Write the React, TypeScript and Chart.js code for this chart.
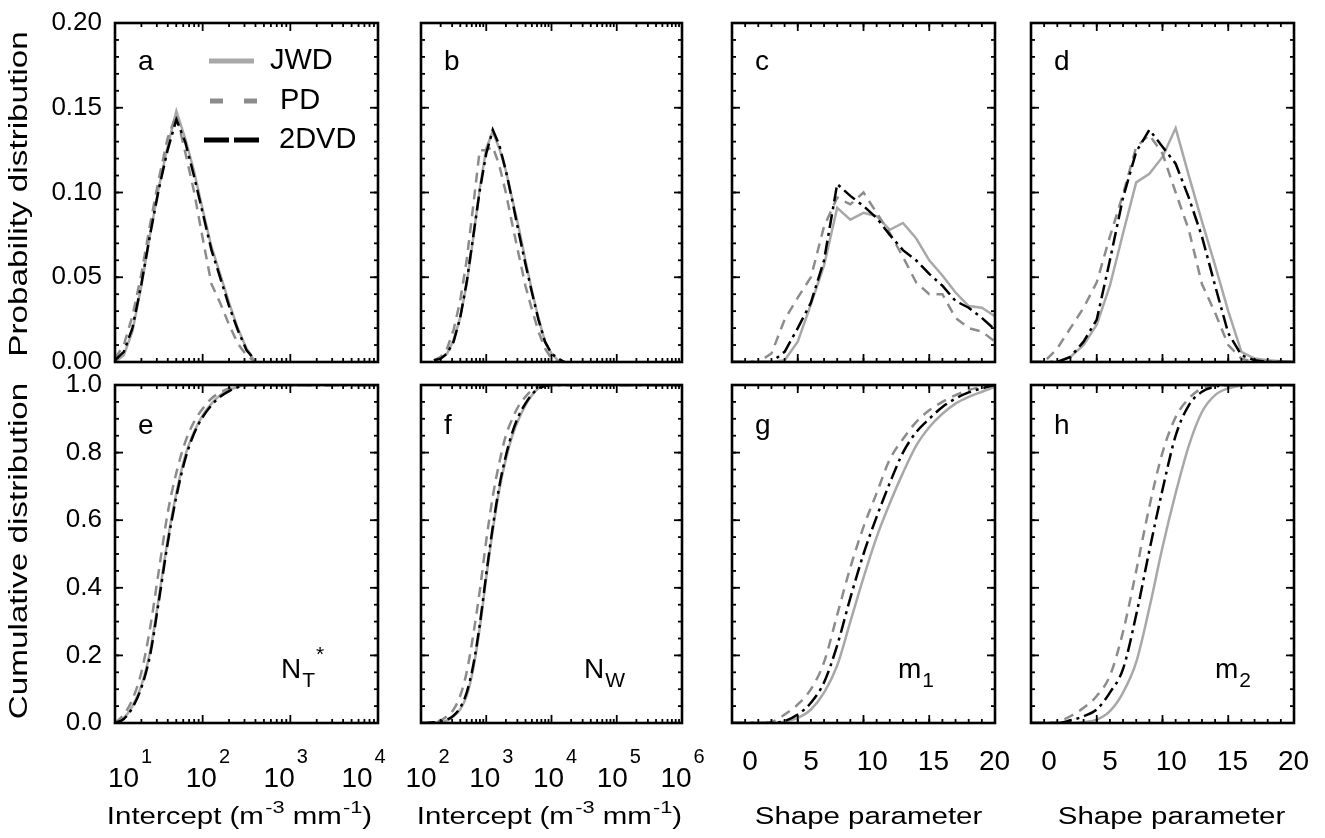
import { useEffect, useRef } from "react";
import { Chart, registerables } from "chart.js";

Chart.register(...registerables);

// ---------------- data ----------------
// Panel a: PDF of intercept N_T* (m^-3 mm^-1)
const ntStarBins = [10, 12.6, 15.8, 20.0, 25.1, 31.6, 39.8, 50.1, 63.1, 79.4, 100, 126, 158, 200, 251, 316, 398];
const pdfNtStarJWD = [0.0, 0.004, 0.018, 0.045, 0.075, 0.103, 0.127, 0.148, 0.132, 0.113, 0.09, 0.068, 0.052, 0.035, 0.02, 0.008, 0.0];
const pdfNtStarPD = [0.002, 0.01, 0.027, 0.052, 0.081, 0.108, 0.132, 0.146, 0.124, 0.101, 0.073, 0.046, 0.035, 0.022, 0.011, 0.004, 0.0];
const pdfNtStar2DVD = [0.001, 0.006, 0.02, 0.046, 0.075, 0.102, 0.125, 0.143, 0.13, 0.11, 0.088, 0.066, 0.05, 0.033, 0.019, 0.007, 0.001];

// Panel e: CDF of N_T*
const ntStarCdfBins = [10, 12.6, 15.8, 20.0, 25.1, 31.6, 39.8, 50.1, 63.1, 79.4, 100, 126, 158, 200, 251, 316, 10000];
const cdfNtStarJWD = [0.0, 0.015, 0.05, 0.11, 0.21, 0.37, 0.54, 0.68, 0.79, 0.86, 0.91, 0.945, 0.97, 0.985, 0.995, 1.0, 1.0];
const cdfNtStarPD = [0.0, 0.025, 0.07, 0.15, 0.28, 0.45, 0.62, 0.74, 0.83, 0.89, 0.93, 0.96, 0.978, 0.99, 0.997, 1.0, 1.0];
const cdfNtStar2DVD = [0.0, 0.012, 0.045, 0.105, 0.2, 0.36, 0.53, 0.67, 0.78, 0.855, 0.905, 0.94, 0.965, 0.982, 0.993, 1.0, 1.0];

// Panel b: PDF of N_w
const nwBins = [158, 200, 251, 316, 398, 501, 631, 794, 1000, 1259, 1585, 1995, 2512, 3162, 3981, 5012, 6310, 7943, 10000, 12589, 15849];
const pdfNwJWD = [0.001, 0.002, 0.005, 0.013, 0.026, 0.046, 0.073, 0.102, 0.126, 0.136, 0.126, 0.113, 0.096, 0.079, 0.06, 0.042, 0.026, 0.012, 0.005, 0.001, 0.0];
const pdfNwPD = [0.001, 0.003, 0.008, 0.019, 0.036, 0.06, 0.092, 0.125, 0.125, 0.127, 0.116, 0.1, 0.081, 0.063, 0.045, 0.031, 0.018, 0.008, 0.002, 0.0, 0.0];
const pdfNw2DVD = [0.001, 0.002, 0.005, 0.012, 0.026, 0.047, 0.074, 0.101, 0.123, 0.137, 0.128, 0.113, 0.095, 0.076, 0.058, 0.041, 0.025, 0.012, 0.005, 0.002, 0.0];

// Panel f: CDF of N_w
const nwCdfBins = [100, 126, 158, 200, 251, 316, 398, 501, 631, 794, 1000, 1259, 1585, 1995, 2512, 3162, 3981, 5012, 6310, 7943, 10000, 1000000];
const cdfNwJWD = [0, 0, 0.001, 0.003, 0.008, 0.02, 0.04, 0.08, 0.16, 0.28, 0.43, 0.57, 0.69, 0.78, 0.85, 0.9, 0.94, 0.97, 0.99, 0.997, 1.0, 1.0];
const cdfNwPD = [0, 0.001, 0.003, 0.008, 0.02, 0.04, 0.08, 0.15, 0.26, 0.39, 0.54, 0.67, 0.77, 0.85, 0.9, 0.94, 0.965, 0.985, 0.995, 1.0, 1.0, 1.0];
const cdfNw2DVD = [0, 0, 0.002, 0.004, 0.01, 0.022, 0.045, 0.09, 0.17, 0.29, 0.44, 0.58, 0.7, 0.79, 0.86, 0.91, 0.945, 0.972, 0.99, 0.997, 1.0, 1.0];

// Shape parameter bins (panels c, d, g, h)
const shapeBins = [0, 1, 2, 3, 4, 5, 6, 7, 8, 9, 10, 11, 12, 13, 14, 15, 16, 17, 18, 19, 20];
const pdfM1JWD = [0, 0, 0, 0, 0.001, 0.012, 0.034, 0.057, 0.091, 0.084, 0.088, 0.086, 0.078, 0.082, 0.073, 0.06, 0.051, 0.041, 0.033, 0.032, 0.027];
const pdfM1PD = [0, 0, 0, 0.005, 0.025, 0.038, 0.05, 0.08, 0.097, 0.093, 0.1, 0.088, 0.076, 0.062, 0.047, 0.04, 0.04, 0.026, 0.02, 0.018, 0.012];
const pdfM12DVD = [0, 0, 0, 0, 0.006, 0.02, 0.035, 0.06, 0.105, 0.098, 0.092, 0.085, 0.075, 0.066, 0.06, 0.052, 0.045, 0.036, 0.032, 0.026, 0.019];

const pdfM2JWD = [0, 0, 0, 0.003, 0.01, 0.022, 0.045, 0.076, 0.106, 0.111, 0.121, 0.138, 0.11, 0.083, 0.057, 0.03, 0.006, 0.002, 0.001, 0.0005, 0];
const pdfM2PD = [0, 0, 0.008, 0.02, 0.032, 0.047, 0.074, 0.099, 0.127, 0.134, 0.123, 0.1, 0.078, 0.046, 0.029, 0.01, 0.002, 0, 0, 0, 0];
const pdfM22DVD = [0, 0, 0, 0.003, 0.012, 0.025, 0.06, 0.097, 0.124, 0.137, 0.127, 0.117, 0.097, 0.074, 0.045, 0.017, 0.004, 0.001, 0, 0, 0];

const cdfM1JWD = [0, 0, 0, 0, 0.004, 0.015, 0.04, 0.09, 0.17, 0.3, 0.43, 0.55, 0.65, 0.74, 0.82, 0.875, 0.915, 0.945, 0.965, 0.98, 0.995];
const cdfM1PD = [0, 0, 0, 0.003, 0.025, 0.055, 0.1, 0.18, 0.32, 0.46, 0.58, 0.68, 0.78, 0.84, 0.89, 0.925, 0.95, 0.97, 0.985, 0.995, 1.0];
const cdfM12DVD = [0, 0, 0, 0, 0.006, 0.025, 0.06, 0.12, 0.23, 0.37, 0.5, 0.61, 0.71, 0.8, 0.86, 0.9, 0.935, 0.96, 0.978, 0.99, 1.0];

const cdfM2JWD = [0, 0, 0, 0, 0.003, 0.01, 0.035, 0.09, 0.18, 0.34, 0.52, 0.68, 0.82, 0.92, 0.97, 0.99, 0.998, 1, 1, 1, 1];
const cdfM2PD = [0, 0, 0.003, 0.02, 0.045, 0.08, 0.14, 0.27, 0.45, 0.64, 0.8, 0.905, 0.96, 0.99, 0.998, 1, 1, 1, 1, 1, 1];
const cdfM22DVD = [0, 0, 0, 0.008, 0.02, 0.04, 0.09, 0.16, 0.32, 0.51, 0.69, 0.85, 0.94, 0.98, 0.995, 1, 1, 1, 1, 1, 1];

// Tick values / labels
const pdfYTicks = [0, 0.05, 0.1, 0.15, 0.2];
const pdfYLabels = ["0.00", "0.05", "0.10", "0.15", "0.20"];
const cdfYTicks = [0, 0.2, 0.4, 0.6, 0.8, 1.0];
const cdfYLabels = ["0.0", "0.2", "0.4", "0.6", "0.8", "1.0"];
const ntStarTicks = [10, 100, 1000, 10000];
const ntStarExps = ["1", "2", "3", "4"];
const nwTicks = [100, 1000, 10000, 100000, 1000000];
const nwExps = ["2", "3", "4", "5", "6"];
const shapeTicks = [0, 5, 10, 15, 20];
const shapeLabels = ["0", "5", "10", "15", "20"];

const seriesNames = ["JWD", "PD", "2DVD"];
const panelLetters = ["a", "b", "c", "d", "e", "f", "g", "h"];

// ---------------- layout / style ----------------
const W = 1325;
const H = 838;
const COL_L = [115, 421, 732, 1031];
const COL_R = [378, 682, 995, 1294];
const ROW_T = [23, 385];
const ROW_B = [362, 723];
const FONT = '"Liberation Sans", Arial, Helvetica, sans-serif';
const fnt = (px: number) => `${px}px ${FONT}`;

const JWD_COLOR = "#a8a8a8";
const PD_COLOR = "#8c8c8c";
const DVD_COLOR = "#000000";
const PD_DASH = [10, 7];
const DVD_DASH = [14, 5, 3, 5];

type Seg = { t: string; k?: "sup" | "sub" };

type PanelSpec = {
  row: number;
  col: number;
  xType: "logarithmic" | "linear";
  xMin: number;
  xMax: number;
  yMax: number;
  xs: number[];
  jwd: number[];
  pd: number[];
  dvd: number[];
  xMajor: number[];
  xLabels: string[];
  labK: number;
  labS: number;
  title: Seg[];
  titleDx: number;
  ann?: Seg[];
  annX?: number;
};

const interceptTitle: Seg[] = [{ t: "Intercept (m" }, { t: "-3", k: "sup" }, { t: " mm" }, { t: "-1", k: "sup" }, { t: ")" }];
const shapeTitle: Seg[] = [{ t: "Shape parameter" }];

const PANELS: PanelSpec[] = [
  { row: 0, col: 0, xType: "logarithmic", xMin: 10, xMax: 10000, yMax: 0.2, xs: ntStarBins, jwd: pdfNtStarJWD, pd: pdfNtStarPD, dvd: pdfNtStar2DVD, xMajor: ntStarTicks, xLabels: ntStarExps, labK: 8.5, labS: 0.888, title: interceptTitle, titleDx: -7 },
  { row: 0, col: 1, xType: "logarithmic", xMin: 100, xMax: 1000000, yMax: 0.2, xs: nwBins, jwd: pdfNwJWD, pd: pdfNwPD, dvd: pdfNw2DVD, xMajor: nwTicks, xLabels: nwExps, labK: 0, labS: 0.977, title: interceptTitle, titleDx: -2 },
  { row: 0, col: 2, xType: "linear", xMin: 0, xMax: 20, yMax: 0.2, xs: shapeBins, jwd: pdfM1JWD, pd: pdfM1PD, dvd: pdfM12DVD, xMajor: shapeTicks, xLabels: shapeLabels, labK: 18, labS: 0.93, title: shapeTitle, titleDx: 5 },
  { row: 0, col: 3, xType: "linear", xMin: 0, xMax: 20, yMax: 0.2, xs: shapeBins, jwd: pdfM2JWD, pd: pdfM2PD, dvd: pdfM22DVD, xMajor: shapeTicks, xLabels: shapeLabels, labK: 18, labS: 0.93, title: shapeTitle, titleDx: 9 },
  { row: 1, col: 0, xType: "logarithmic", xMin: 10, xMax: 10000, yMax: 1.0, xs: ntStarCdfBins, jwd: cdfNtStarJWD, pd: cdfNtStarPD, dvd: cdfNtStar2DVD, xMajor: ntStarTicks, xLabels: ntStarExps, labK: 8.5, labS: 0.888, title: interceptTitle, titleDx: -7, ann: [{ t: "N" }, { t: "T", k: "sub" }, { t: "*", k: "sup" }], annX: 166 },
  { row: 1, col: 1, xType: "logarithmic", xMin: 100, xMax: 1000000, yMax: 1.0, xs: nwCdfBins, jwd: cdfNwJWD, pd: cdfNwPD, dvd: cdfNw2DVD, xMajor: nwTicks, xLabels: nwExps, labK: 0, labS: 0.977, title: interceptTitle, titleDx: -2, ann: [{ t: "N" }, { t: "W", k: "sub" }], annX: 163 },
  { row: 1, col: 2, xType: "linear", xMin: 0, xMax: 20, yMax: 1.0, xs: shapeBins, jwd: cdfM1JWD, pd: cdfM1PD, dvd: cdfM12DVD, xMajor: shapeTicks, xLabels: shapeLabels, labK: 18, labS: 0.93, title: shapeTitle, titleDx: 5, ann: [{ t: "m" }, { t: "1", k: "sub" }], annX: 166 },
  { row: 1, col: 3, xType: "linear", xMin: 0, xMax: 20, yMax: 1.0, xs: shapeBins, jwd: cdfM2JWD, pd: cdfM2PD, dvd: cdfM22DVD, xMajor: shapeTicks, xLabels: shapeLabels, labK: 18, labS: 0.93, title: shapeTitle, titleDx: 9, ann: [{ t: "m" }, { t: "2", k: "sub" }], annX: 184 },
];

// ---------------- drawing helpers ----------------
function segWidth(ctx: CanvasRenderingContext2D, segs: Seg[], size: number, small: number, sx: number) {
  let w = 0;
  for (const s of segs) {
    ctx.font = fnt(s.k ? small : size);
    w += (ctx.measureText(s.t).width + (s.k ? 1 : 0)) * sx;
  }
  return w;
}

function drawSegs(ctx: CanvasRenderingContext2D, segs: Seg[], x: number, baseline: number, size: number, small: number, raise: number, lower: number, sx: number) {
  ctx.textAlign = "left";
  ctx.textBaseline = "alphabetic";
  let cx = x;
  for (const s of segs) {
    ctx.font = fnt(s.k ? small : size);
    let y = baseline;
    if (s.k === "sup") y = baseline - raise;
    if (s.k === "sub") y = baseline + lower;
    ctx.save();
    ctx.translate(cx + (s.k ? 1 : 0) * sx, y);
    ctx.scale(sx, 1);
    ctx.fillText(s.t, 0, 0);
    ctx.restore();
    cx += (ctx.measureText(s.t).width + (s.k ? 1 : 0)) * sx;
  }
}

function minorX(p: PanelSpec): number[] {
  const out: number[] = [];
  if (p.xType === "logarithmic") {
    const e0 = Math.round(Math.log10(p.xMin));
    const e1 = Math.round(Math.log10(p.xMax));
    for (let e = e0; e < e1; e++) for (let m = 2; m <= 9; m++) out.push(m * Math.pow(10, e));
  } else {
    for (let v = p.xMin; v <= p.xMax; v += 1) out.push(v);
  }
  return out;
}

function minorY(p: PanelSpec): number[] {
  const step = p.row === 0 ? 0.01 : 0.05;
  const out: number[] = [];
  const n = Math.round(p.yMax / step);
  for (let i = 0; i <= n; i++) out.push(i * step);
  return out;
}

function makeDecor(p: PanelSpec, idx: number) {
  return {
    id: "decor" + idx,
    afterDraw(chart: any) {
      const ctx: CanvasRenderingContext2D = chart.ctx;
      const { left, right, top, bottom } = chart.chartArea;
      const xs = chart.scales.x;
      const ys = chart.scales.y;
      ctx.save();
      ctx.strokeStyle = "#000";
      ctx.fillStyle = "#000";
      ctx.setLineDash([]);
      ctx.lineCap = "butt";

      const line = (x1: number, y1: number, x2: number, y2: number) => {
        ctx.beginPath();
        ctx.moveTo(x1, y1);
        ctx.lineTo(x2, y2);
        ctx.stroke();
      };

      // ticks (inward, on all four sides)
      ctx.lineWidth = 1.8;
      for (const v of minorX(p)) {
        const px = xs.getPixelForValue(v);
        line(px, bottom, px, bottom - 4);
        line(px, top, px, top + 4);
      }
      for (const v of p.xMajor) {
        const px = xs.getPixelForValue(v);
        line(px, bottom, px, bottom - 8);
        line(px, top, px, top + 8);
      }
      for (const v of minorY(p)) {
        const py = ys.getPixelForValue(v);
        line(left, py, left + 4, py);
        line(right, py, right - 4, py);
      }
      const yMaj = p.row === 0 ? pdfYTicks : cdfYTicks;
      for (const v of yMaj) {
        const py = ys.getPixelForValue(v);
        line(left, py, left + 8, py);
        line(right, py, right - 8, py);
      }

      // frame
      ctx.lineWidth = 2.6;
      ctx.strokeRect(left, top, right - left, bottom - top);

      // y tick labels & row titles (first column)
      if (p.col === 0) {
        const labs = p.row === 0 ? pdfYLabels : cdfYLabels;
        ctx.font = fnt(26);
        ctx.textAlign = "right";
        ctx.textBaseline = "middle";
        yMaj.forEach((v, i) => ctx.fillText(labs[i], left - 13, ys.getPixelForValue(v)));
        ctx.save();
        ctx.translate(20, p.row === 0 ? 194 : 551);
        ctx.rotate(-Math.PI / 2);
        ctx.scale(1.28, 1);
        ctx.font = fnt(26);
        ctx.textAlign = "center";
        ctx.textBaseline = "middle";
        ctx.fillText(p.row === 0 ? "Probability distribution" : "Cumulative distribution", 0, 0);
        ctx.restore();
      }

      // x tick labels & titles (bottom row)
      if (p.row === 1) {
        p.xMajor.forEach((v, i) => {
          const px = xs.getPixelForValue(v);
          const lx = left + p.labK + (px - left) * p.labS;
          if (p.xType === "logarithmic") {
            ctx.font = fnt(28);
            ctx.textAlign = "center";
            ctx.textBaseline = "alphabetic";
            ctx.fillText("10", lx, 787);
            const hw = ctx.measureText("10").width / 2;
            ctx.font = fnt(20);
            ctx.textAlign = "left";
            ctx.fillText(p.xLabels[i], lx + hw + 2, 763);
          } else {
            ctx.font = fnt(28);
            ctx.textAlign = "center";
            ctx.textBaseline = "alphabetic";
            ctx.fillText(p.xLabels[i], lx, 770);
          }
        });
        const sx = 1.28;
        const tw = segWidth(ctx, p.title, 23, 17, sx);
        const cx = (left + right) / 2 + p.titleDx;
        drawSegs(ctx, p.title, cx - tw / 2, 824, 23, 17, 11, 0, sx);
        if (p.ann) drawSegs(ctx, p.ann, left + (p.annX || 0), 678, 28, 21, 17, 9, 1);
      }

      // panel letter
      ctx.font = fnt(28);
      ctx.textAlign = "left";
      ctx.textBaseline = "alphabetic";
      ctx.fillText(panelLetters[idx], left + 23, p.row === 0 ? top + 47 : top + 49);

      // legend (panel a)
      if (p.row === 0 && p.col === 0) {
        const ly = [top + 38, top + 78, top + 117];
        ctx.lineWidth = 5;
        ctx.strokeStyle = JWD_COLOR;
        ctx.setLineDash([]);
        line(left + 94, ly[0], left + 139, ly[0]);
        ctx.strokeStyle = PD_COLOR;
        ctx.setLineDash([13, 21]);
        line(left + 95, ly[1], left + 142, ly[1]);
        ctx.strokeStyle = DVD_COLOR;
        ctx.setLineDash([25, 5]);
        line(left + 89, ly[2], left + 144, ly[2]);
        ctx.setLineDash([]);
        ctx.font = fnt(29);
        ctx.textAlign = "left";
        ctx.textBaseline = "middle";
        ctx.fillText(seriesNames[0], left + 155, ly[0]);
        ctx.fillText(seriesNames[1], left + 165, ly[1]);
        ctx.fillText(seriesNames[2], left + 164, ly[2]);
      }
      ctx.restore();
    },
  };
}

function buildConfig(p: PanelSpec, idx: number): any {
  const smooth = p.row === 1;
  const mk = (vals: number[]) => p.xs.map((x, i) => ({ x, y: vals[i] }));
  const common = {
    pointRadius: 0,
    fill: false,
    tension: 0,
    cubicInterpolationMode: smooth ? "monotone" : "default",
    borderWidth: 2.5,
  };
  return {
    type: "line",
    data: {
      datasets: [
        { ...common, label: seriesNames[0], data: mk(p.jwd), borderColor: JWD_COLOR, order: 3 },
        { ...common, label: seriesNames[1], data: mk(p.pd), borderColor: PD_COLOR, borderDash: PD_DASH, order: 2 },
        { ...common, label: seriesNames[2], data: mk(p.dvd), borderColor: DVD_COLOR, borderDash: DVD_DASH, order: 1 },
      ],
    },
    options: {
      animation: false,
      responsive: false,
      maintainAspectRatio: false,
      events: [],
      layout: {
        padding: {
          left: COL_L[p.col],
          right: W - COL_R[p.col],
          top: ROW_T[p.row],
          bottom: H - ROW_B[p.row],
        },
      },
      plugins: { legend: { display: false }, tooltip: { enabled: false } },
      scales: {
        x: { type: p.xType, min: p.xMin, max: p.xMax, display: false },
        y: { type: "linear", min: 0, max: p.yMax, display: false },
      },
    },
    plugins: [makeDecor(p, idx)],
  };
}

export default function App() {
  const refs = useRef<(HTMLCanvasElement | null)[]>([]);
  useEffect(() => {
    const charts = PANELS.map((p, i) => new Chart(refs.current[i] as HTMLCanvasElement, buildConfig(p, i)));
    return () => charts.forEach((c) => c.destroy());
  }, []);
  return (
    <div style={{ position: "fixed", left: 0, top: 0, width: W, height: H, background: "#ffffff" }}>
      {PANELS.map((p, i) => (
        <canvas
          key={i}
          ref={(el) => {
            refs.current[i] = el;
          }}
          width={W}
          height={H}
          style={{ position: "absolute", left: 0, top: 0, width: W, height: H }}
        />
      ))}
    </div>
  );
}
